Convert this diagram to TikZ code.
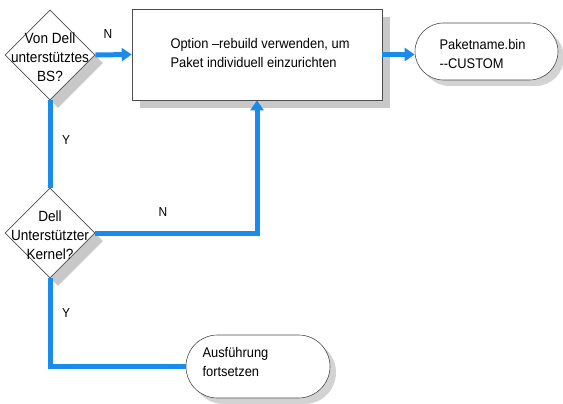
\documentclass[tikz,border=0pt]{standalone}
\usepackage{fontspec}
\setmainfont{Liberation Sans}[FakeStretch=0.92]
\usetikzlibrary{shapes.geometric,shapes.misc,shadows,arrows.meta}
\definecolor{flow}{RGB}{25,140,235}
\definecolor{shade}{RGB}{200,200,200}
\begin{document}
\begin{tikzpicture}[x=1pt,y=-1pt,
  box/.style={draw=black!70, line width=0.6pt, fill=white},
  shad/.style={drop shadow={shadow xshift=8pt, shadow yshift=-8pt, fill=shade, opacity=1}},
  shadsoft/.style={drop shadow={shadow xshift=6pt, shadow yshift=-6pt, fill=shade, opacity=0.8}},
  flowline/.style={draw=flow, line width=5pt},
  tip/.style={-{Triangle[length=10pt,width=13pt]}},
  lbl/.style={font=\fontsize{13}{15}\selectfont, inner sep=0pt},
  dtxt/.style={font=\fontsize{14.8}{19}\selectfont, align=center, inner sep=0pt},
  txt/.style={font=\fontsize{14}{19}\selectfont, align=left}]
\useasboundingbox (0,0) rectangle (563,404);

% shapes
\node[diamond, box, shad, minimum width=90pt, minimum height=90pt, inner sep=0pt] (d1) at (50,55) {};
\node[dtxt] (d1t) at (50,57) {Von Dell\\unterstütztes\\BS?};

\node[rectangle, box, shad, minimum width=250pt, minimum height=91pt] (r) at (257,54.5) {};
\node[txt, anchor=west] (rt) at (167,53) {Option –rebuild verwenden, um\\Paket individuell einzurichten};

\node[rounded rectangle, box, shadsoft, minimum width=143pt, minimum height=57pt, inner sep=0pt] (t1) at (486.5,51.5) {};
\node[txt, anchor=west] (t1t) at (436,54) {Paketname.bin\\-{}-CUSTOM};

\node[diamond, box, shad, minimum width=90pt, minimum height=90pt, inner sep=0pt] (d2) at (50,233) {};
\node[dtxt] (d2t) at (50,235) {Dell\\Unterstützter\\Kernel?};

\node[rounded rectangle, box, shadsoft, minimum width=144pt, minimum height=63pt, inner sep=0pt] (t2) at (258,366.5) {};
\node[txt, anchor=west] (t2t) at (199,362) {Ausführung\\fortsetzen};

% connectors
\draw[flowline, tip] (d1.east) -- (r.west);
\draw[flowline, tip] (r.east) -- (r.east -| t1.west);
\draw[flowline] (d1.south) -- (d2.north);
\draw[flowline, tip] (d2.east) -| (r.south);
\draw[flowline] (d2.south) |- (t2.west);

% labels
\node[lbl] (n1) at (108,34) {N};
\node[lbl] (y1) at (66,140) {Y};
\node[lbl] (n2) at (163,212) {N};
\node[lbl] (y2) at (66,313) {Y};
\end{tikzpicture}
\end{document}
